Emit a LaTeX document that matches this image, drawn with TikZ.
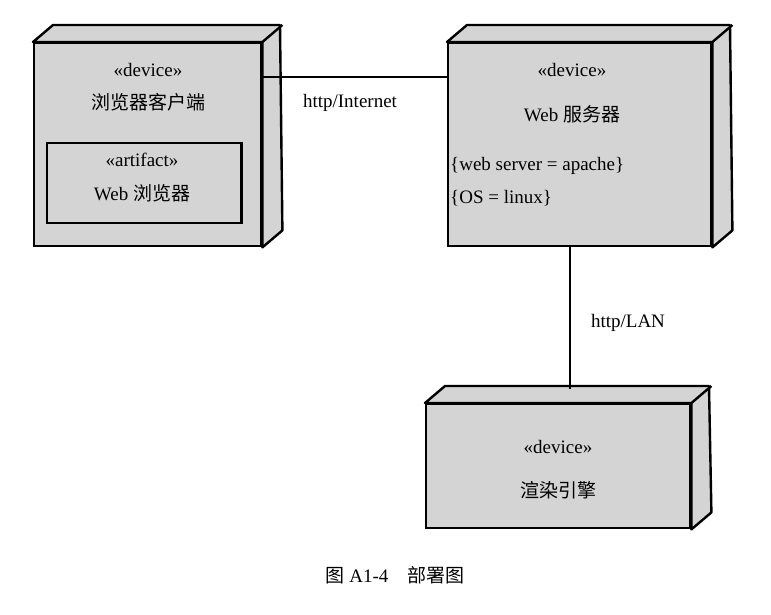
\documentclass[tikz,border=0pt]{standalone}
\usepackage{fontspec}
\setmainfont{Liberation Serif}
\newfontfamily\cjk{Noto Sans CJK SC}
\begin{document}
\begin{tikzpicture}[x=1pt,y=-1pt,
  box/.style={draw,line width=2.4pt,fill=boxgray,rectangle,inner sep=0pt,anchor=north west},
  side/.style={draw,line width=2.4pt,fill=boxgray,line join=round},
  lab/.style={font=\fontsize{19}{22}\selectfont,inner sep=0pt},
  conn/.style={line width=2pt}]
\definecolor{boxgray}{HTML}{D4D4D4}
\useasboundingbox (0,0) rectangle (771,614);
\newcommand{\devbox}[5]{% name, x, y, w, h
  \node[box,minimum width=#4pt,minimum height=#5pt] (#1) at (#2,#3) {};
  \draw[side] (#1.north west) -- ++(20,-17) -- ++(#4,0) -- ([shift={(20,-17)}]#1.south east) -- (#1.south east) -- (#1.north east) -- cycle;
  \draw[line width=2.4pt] (#1.north east) -- ++(20,-17);}
\devbox{client}{33}{42}{227}{203}
\devbox{server}{447}{42}{263}{203}
\devbox{render}{425}{403}{264}{124}
% artifact
\node[box,minimum width=195pt,minimum height=80pt] (art) at (46,142) {};
\draw[line width=3pt] ([xshift=-2pt]art.north east) -- ([xshift=-2pt]art.south east);
\node[lab] (t1) at (148,70) {<<device>>};
\node[lab] (t2) at (148,102) {\cjk 浏览器客户端};
\node[lab] (t3) at (142,160) {<<artifact>>};
\node[lab] (t4) at (142,193) {Web {\cjk 浏览器}};
\node[lab] (t5) at (572,70) {<<device>>};
\node[lab] (t6) at (572,114) {Web {\cjk 服务器}};
\node[lab,anchor=west] (t7) at (450,166) {\{web server = apache\}};
\node[lab,anchor=west] (t8) at (450,198) {\{OS = linux\}};
\node[lab] (t9) at (558,447) {<<device>>};
\node[lab] (t10) at (558,490) {\cjk 渲染引擎};
\coordinate (cA) at (260,77);
\coordinate (cB) at (447,77);
\coordinate (cC) at (570,245);
\coordinate (cD) at (570,389);
\draw[conn] (cA) -- (cB);
\draw[conn] (cC) -- (cD);
\node[lab] (l1) at (350,103) {http/Internet};
\node[lab] (l2) at (628,323) {http/LAN};
\node[lab] (cap) at (395,575) {{\cjk 图} A1-4\quad{\cjk 部署图}};
\end{tikzpicture}
\end{document}
